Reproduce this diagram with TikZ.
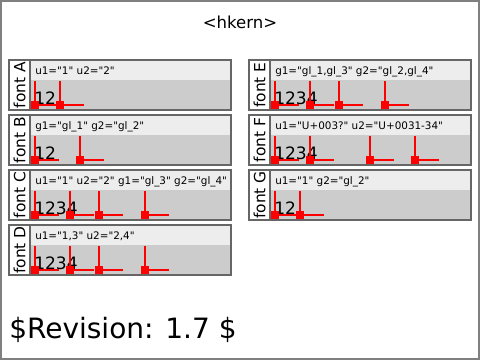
\documentclass[tikz,border=0pt]{standalone}
\usepackage{fontspec}
\setmainfont{DejaVu Sans}[Ligatures=TeXOff]
\usepackage{tikz}

\begin{document}
\begin{tikzpicture}
        [x=0.75pt, y=-0.75pt,
        frame/.style={draw=gray, line width=1.5pt},
        panel/.style={draw=black!60, line width=1pt},
        shade/.style={fill=black!55},
        head/.style={fill=black!7},
        body/.style={fill=black!20},
        lab/.style={rotate=90, inner sep=0pt, font=\fontsize{11.6}{13}\selectfont},
        attr/.style={anchor=base west, inner sep=0pt, font=\fontsize{7.8}{9}\selectfont},
        glyphs/.style={anchor=base west, inner sep=0pt, font=\fontsize{12.8}{14}\selectfont},
        kline/.style={red, line width=1.5pt},
        kernmark/.pic={
          \draw[kline] (0,-24) |- (24,0);
          \fill[red] (-4,-4) rectangle (4,4);}]
        \useasboundingbox (0,0) rectangle (480,360);
        \draw[frame] (1,1) rectangle (479,359);
        \node (title) at (240,29) [anchor=base, font=\fontsize{12.4}{14}\selectfont] {<hkern>};
        % the seven test panels
        \foreach \px/\py/\p in {9/60/A, 9/115/B, 9/170/C, 9/225/D, 249/60/E, 249/115/F, 249/170/G} {
          \fill[shade] (\px+1.5,\py+1.5) rectangle ++(222,50);
          \fill[white] (\px,\py) rectangle ++(21,50);
          \fill[head] (\px+21,\py) rectangle ++(201,20);
          \fill[body] (\px+21,\py+20) rectangle ++(201,30);
          \draw[panel] (\px,\py) rectangle ++(222,50);
          \draw[panel] (\px+21,\py) -- ++(0,50);
          \node (lab\p) at (\px+10.5,\py+25) [lab] {font \p};
        }
        \node (attrA) at (35,75) [attr] {u1="1" u2="2"};
        \node (attrB) at (35,130) [attr] {g1="gl\_1" g2="gl\_2"};
        \node (attrC) at (35,185) [attr] {u1="1" u2="2" g1="gl\_3" g2="gl\_4"};
        \node (attrD) at (35,240) [attr] {u1="1,3" u2="2,4"};
        \node (attrE) at (275,75) [attr] {g1="gl\_1,gl\_3" g2="gl\_2,gl\_4"};
        \node (attrF) at (275,130) [attr] {u1="U+003?" u2="U+0031-34"};
        \node (attrG) at (275,185) [attr] {u1="1" g2="gl\_2"};
        \node (textA) at (34,105) [glyphs] {12};
        \node (textB) at (34,160) [glyphs] {12};
        \node (textC) at (34,215) [glyphs] {1234};
        \node (textD) at (34,270) [glyphs] {1234};
        \node (textE) at (274,105) [glyphs] {1234};
        \node (textF) at (274,160) [glyphs] {1234};
        \node (textG) at (274,215) [glyphs] {12};
        % expected glyph positions
        \foreach \mx in {35,60} \pic at (\mx,105) {kernmark};
        \foreach \mx in {35,80} \pic at (\mx,160) {kernmark};
        \foreach \mx in {35,70,99,145} \pic at (\mx,215) {kernmark};
        \foreach \mx in {35,70,99,145} \pic at (\mx,270) {kernmark};
        \foreach \mx in {275,310,339,385} \pic at (\mx,105) {kernmark};
        \foreach \mx in {275,310,370,415} \pic at (\mx,160) {kernmark};
        \foreach \mx in {275,300} \pic at (\mx,215) {kernmark};
        \node (rev) at (9,339) [anchor=base west, inner sep=0pt, font=\fontsize{21}{24}\selectfont] {\$Revision: 1.7 \$};
\end{tikzpicture}
\end{document}
